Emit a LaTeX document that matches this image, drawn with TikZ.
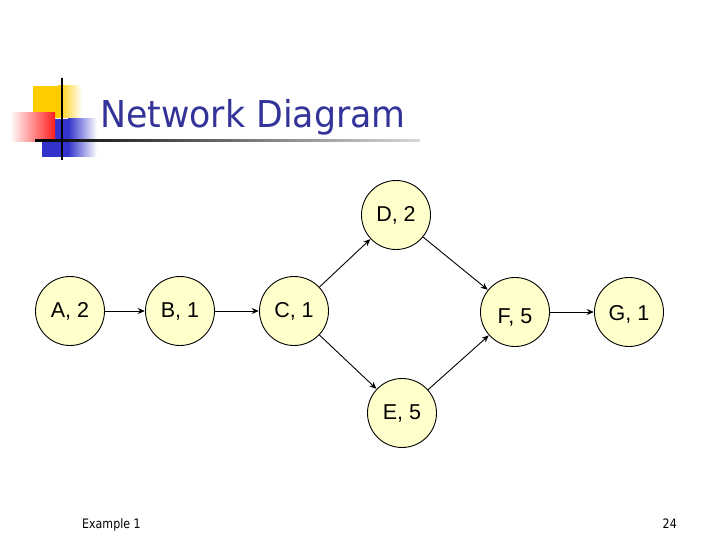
\documentclass[tikz,border=0pt]{standalone}
\usepackage{fontspec}
\setmainfont{Liberation Sans}
\newfontfamily\tahoma{DejaVu Sans}
\usetikzlibrary{arrows.meta}
\definecolor{nodefill}{RGB}{255,255,204}
\definecolor{titleblue}{RGB}{51,51,153}
\definecolor{decoyellow}{RGB}{255,204,0}
\definecolor{decoblue}{RGB}{51,51,204}
\definecolor{decored}{RGB}{255,30,30}
\tikzset{
  task/.style={circle, draw=black, line width=0.9pt, fill=nodefill, minimum size=69pt, inner sep=0pt, font=\fontsize{21.5}{23}\selectfont},
  link/.style={-{Stealth[length=7pt,width=6pt]}, line width=0.9pt, black, shorten >=0.3pt}
}
\begin{document}
\begin{tikzpicture}[x=1pt,y=-1pt]
\useasboundingbox (0,0) rectangle (720,540);
% decoration
\fill[decoyellow] (33,86) rectangle (58,118);
\shade[left color=decoyellow, right color=white] (58,86) rectangle (82,118);
\fill[decoblue] (42,119) rectangle (68,157);
\shade[left color=decoblue, right color=white] (68,119) rectangle (97,157);
\shade[left color=white, right color=decored] (10,113) rectangle (55,142);
\shade[left color=black, right color=black!15] (35,140) rectangle (420,142);
\fill[black] (60.5,78) rectangle (63,160);
% title
\node[anchor=base west, inner sep=0pt, text=titleblue, font=\tahoma\fontsize{37}{40}\selectfont] (title) at (100,128) {\scalebox{0.94}[1]{Network Diagram}};
% nodes
\node[task] (A) at (70,311) {A, 2};
\node[task] (B) at (180,311) {B, 1};
\node[task] (C) at (294,311) {C, 1};
\node[task] (D) at (396,215) {D, 2};
\node[task] (E) at (402,413) {E, 5};
\node[task] (F) at (515,312) {\raisebox{-11pt}[0pt][0pt]{F, 5}};
\node[task] (G) at (629,312) {\raisebox{-8pt}[0pt][0pt]{G, 1}};
% links
\draw[link] (A) -- (B);
\draw[link] (B) -- (C);
\draw[link] (C) -- (D);
\draw[link] (C) -- (E);
\draw[link] (D) -- (F);
\draw[link] (E) -- (F);
\draw[link] (F) -- (G);
% footer
\node[anchor=base west, inner sep=0pt, font=\tahoma\fontsize{13}{15}\selectfont] (foot) at (82,528) {\scalebox{0.85}[1]{Example 1}};
\node[anchor=base east, inner sep=0pt, font=\tahoma\fontsize{13}{15}\selectfont] (page) at (677,528) {\scalebox{0.85}[1]{24}};
\end{tikzpicture}
\end{document}
